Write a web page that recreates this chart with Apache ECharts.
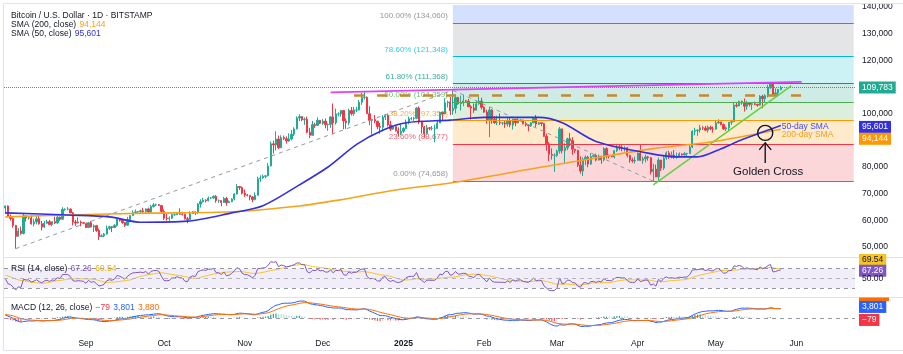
<!DOCTYPE html>
<html>
<head>
<meta charset="utf-8">
<script src="https://cdn.jsdelivr.net/npm/echarts@6/dist/echarts.min.js"></script>
<style>
  html, body { margin: 0; padding: 0; background: #fff; }
  #chart { width: 903px; height: 354px; }
</style>
</head>
<body>
<div id="chart"></div>
<script>
// prices in thousands of USD, one candle per day from 2024-08-01
var nCategories = 327; // Aug 1 2024 .. Jun 23 2025, right side left empty

// July 2024 closes, only used to warm up RSI / MACD
var warmupCloses = [62.7,62.0,60.2,57.0,56.6,58.2,55.9,56.7,58.0,57.7,57.3,57.9,59.2,60.8,64.8,65.1,
  64.1,63.9,66.7,67.2,68.2,67.6,65.9,65.4,65.8,68.0,68.0,68.3,66.8,66.2,64.6];

var closes = [
  // Aug
  65.4,61.5,60.7,58.1,54.0,56.0,55.1,61.7,60.9,60.9,58.7,59.4,60.6,58.7,57.5,58.9,59.5,58.4,59.5,59.0,61.2,60.4,64.1,64.2,64.2,62.8,59.4,59.0,59.4,59.1,58.9,
  // Sep
  57.3,59.1,57.5,58.0,56.2,53.9,54.2,54.9,57.0,57.6,57.3,58.1,60.6,60.0,59.2,58.2,60.3,61.8,62.9,63.2,63.3,63.6,63.3,64.3,63.1,65.2,65.8,65.9,65.6,63.3,
  // Oct
  60.8,60.6,60.8,62.1,62.1,62.8,62.3,62.2,60.6,60.3,62.5,63.2,62.9,66.1,67.0,67.6,67.4,68.4,68.4,69.0,67.4,67.4,66.7,68.2,66.6,67.0,68.0,69.9,72.7,72.3,70.2,
  // Nov
  69.5,69.4,68.8,67.8,69.4,75.6,75.9,76.5,76.7,80.4,88.7,88.3,90.5,87.2,91.1,90.6,89.8,90.5,92.3,94.3,98.4,98.9,97.7,97.9,93.0,91.9,95.9,95.6,97.5,96.4,
  // Dec
  97.2,95.9,96.0,98.8,96.6,99.9,99.9,101.2,97.3,96.6,101.2,100.0,101.4,101.4,104.3,106.1,106.1,100.0,97.5,97.8,97.2,95.2,94.9,98.7,99.4,95.8,94.2,95.2,93.6,92.6,93.4,
  // Jan
  94.4,96.9,98.1,98.2,98.3,102.1,96.9,95.0,92.5,94.7,94.5,94.5,94.5,96.5,100.5,99.9,104.1,104.4,101.1,102.0,106.1,103.7,104.0,104.8,104.7,102.6,102.1,101.3,103.7,104.7,102.4,
  // Feb
  100.6,97.7,101.4,97.9,96.6,96.6,96.5,96.5,96.1,97.4,95.8,97.9,96.6,97.5,97.6,96.2,95.8,95.5,96.6,98.3,96.1,96.6,96.3,91.5,88.7,84.7,84.4,84.4,
  // Mar
  86.0,94.3,86.1,87.2,90.6,89.9,86.7,86.2,80.7,78.5,82.9,83.7,81.1,83.9,84.3,82.6,84.1,82.7,86.9,84.2,84.0,83.8,86.1,87.5,87.4,86.9,87.2,84.4,82.6,82.3,82.5,
  // Apr
  85.2,82.5,83.1,83.8,83.5,78.2,79.2,76.3,82.6,79.6,83.4,85.3,83.7,84.5,83.6,84.0,84.9,84.5,85.0,85.1,87.5,93.4,93.7,93.9,94.7,94.6,93.8,94.9,94.3,94.2,
  // May
  96.5,96.9,95.9,94.3,94.7,96.8,97.0,103.2,102.9,104.6,104.1,102.8,104.1,103.5,103.7,103.5,103.2,106.5,105.6,106.8,109.7,111.7,107.3,107.8,109.0,109.783
];

var highs = [
  65.6,65.6,62.2,61.1,58.3,57.1,57.7,62.7,61.8,61.4,61.8,60.6,61.5,61.8,59.8,59.8,60.2,60.2,59.6,61.4,61.8,61.4,64.9,64.5,65.0,64.5,63.2,60.2,61.2,59.9,59.4,
  59.0,59.4,59.8,58.5,58.3,56.9,54.8,55.3,58.1,58.0,57.9,58.6,60.7,60.6,60.4,59.2,61.3,61.8,63.8,64.1,63.5,64.0,64.7,64.5,64.8,65.8,66.5,66.3,66.1,65.6,
  64.1,62.4,61.5,62.5,62.4,63.0,64.5,63.2,62.5,61.3,63.4,63.5,63.3,66.5,67.9,68.4,67.9,68.9,68.7,69.4,69.5,67.8,67.4,68.8,68.8,67.5,68.3,70.2,73.6,72.9,72.7,
  71.6,69.9,69.4,69.1,70.5,76.4,76.9,77.2,76.9,81.5,89.6,89.9,93.4,91.8,91.9,91.8,91.5,92.6,93.9,94.9,99.0,99.8,98.9,98.6,98.9,94.7,97.3,96.6,98.6,97.6,
  98.0,98.2,96.3,99.0,103.8,101.9,100.5,101.4,101.3,98.2,101.9,102.5,102.6,102.6,105.1,107.8,108.3,106.5,102.8,98.1,99.5,97.3,96.5,99.4,99.9,99.9,97.3,95.5,95.2,94.9,96.1,
  94.9,97.8,98.9,98.7,98.8,102.5,102.7,97.3,95.4,95.8,95.0,95.4,95.9,97.3,100.7,100.8,105.8,104.9,106.3,108.8,107.2,106.3,106.8,107.1,105.2,105.5,103.2,103.8,104.8,106.4,106.0,
  102.8,101.5,102.5,101.7,99.1,99.2,100.1,96.9,97.3,98.3,98.5,98.1,97.9,98.8,97.9,97.7,97.0,96.0,96.9,98.7,99.5,96.9,96.6,96.5,92.5,89.3,87.0,85.1,
  86.5,95.0,94.4,88.9,91.0,92.8,91.2,86.8,86.5,84.0,83.6,84.3,84.2,85.2,84.7,85.0,84.7,84.1,87.4,87.4,84.7,84.5,86.2,88.7,88.5,88.3,87.8,87.5,84.6,83.5,83.9,
  85.5,88.5,83.9,84.7,84.2,83.8,81.2,80.9,83.5,82.7,84.2,85.9,86.1,85.8,86.4,85.4,85.5,85.1,85.6,85.3,88.6,93.8,94.7,94.0,95.8,95.3,95.4,95.6,95.5,95.2,
  97.4,97.9,96.9,96.3,95.2,96.9,97.7,104.1,104.3,104.9,104.9,105.7,104.9,104.2,104.1,104.5,103.7,107.0,107.1,107.3,110.8,111.9,111.8,109.5,109.3,110.4
];

var lows = [
  62.3,61.2,59.9,57.3,49.4,54.0,54.6,54.7,59.6,60.3,58.4,57.7,58.5,58.4,56.2,57.1,58.8,58.4,57.8,58.6,58.8,59.8,60.4,63.6,63.8,62.8,58.1,57.9,58.8,57.8,58.7,
  57.2,57.1,57.4,55.6,55.7,52.6,53.8,53.7,54.6,56.4,55.6,57.4,57.6,59.5,58.7,57.5,58.0,59.2,61.6,62.4,62.8,62.4,62.7,62.8,62.7,62.7,64.8,65.4,65.4,62.9,
  60.2,59.9,59.8,60.5,61.7,62.0,62.1,61.8,60.3,58.9,60.1,62.4,62.0,62.4,64.8,66.7,66.7,67.1,68.0,68.1,66.6,66.6,65.3,66.6,65.5,66.5,66.8,67.5,69.7,71.4,69.7,
  68.8,69.0,67.5,66.8,67.5,69.3,74.4,75.6,75.8,76.5,80.2,85.1,86.2,86.7,87.1,90.1,88.8,89.4,90.0,91.6,94.1,97.2,97.2,95.8,92.6,90.8,91.7,94.7,95.4,96.1,
  95.8,94.5,93.6,94.7,92.3,95.9,99.0,98.9,94.2,94.3,95.7,99.3,99.2,100.6,101.2,103.3,105.3,100.0,95.7,92.1,96.4,94.2,92.5,93.4,97.6,95.2,93.5,94.0,93.3,91.4,92.0,
  92.8,94.2,96.0,97.5,97.3,97.9,96.1,92.5,91.2,92.2,93.8,93.7,89.3,94.3,96.5,97.3,99.9,102.3,99.5,99.6,100.1,103.3,101.2,102.8,104.1,102.5,97.8,100.3,101.3,103.3,101.6,
  100.3,96.2,91.2,96.2,96.2,95.7,95.7,95.7,94.7,95.2,94.9,94.1,95.3,96.3,97.1,96.0,95.2,93.4,95.0,96.4,94.9,95.8,95.3,91.3,86.1,82.3,82.8,78.2,
  83.8,85.0,85.1,81.4,86.3,87.8,84.6,85.3,80.0,77.5,76.6,80.7,79.9,80.8,83.7,82.1,82.4,81.2,82.1,83.2,83.2,83.7,83.2,85.6,86.3,85.9,85.8,83.6,81.6,81.6,81.3,
  82.4,82.3,81.2,81.7,82.4,77.2,74.66,76.2,74.9,78.5,78.9,82.7,83.0,83.2,83.1,83.1,83.9,84.3,84.4,83.9,85.0,87.1,91.9,91.7,92.9,93.9,93.6,92.9,93.8,92.9,
  94.1,96.3,95.6,93.9,93.5,93.4,95.8,96.9,102.3,102.8,103.4,100.8,101.5,102.7,101.4,103.1,102.6,103.1,102.0,104.2,106.1,109.3,106.8,107.0,106.6,108.8
];

// moving averages
var sma50Points = [["2024-08-01",62.8],["2024-08-25",62.0],["2024-09-10",61.3],["2024-09-22",59.3],["2024-10-10",59.7],
  ["2024-10-27",62.8],["2024-11-08",65.5],["2024-11-22",73.3],["2024-12-03",80.0],["2024-12-14",88.5],["2024-12-24",93.8],
  ["2025-01-02",96.6],["2025-01-19",97.6],["2025-02-01",98.6],["2025-02-22",98.6],["2025-03-03",96.6],["2025-03-16",89.6],
  ["2025-04-05",85.2],["2025-04-16",83.8],["2025-04-24",83.8],["2025-05-02",86.4],["2025-05-11",90.2],["2025-05-19",93.1],["2025-05-26",95.601]];
var sma200Points = [["2024-08-01",61.3],["2024-08-25",62.0],["2024-09-25",62.7],["2024-10-27",63.2],["2024-11-22",65.4],
  ["2024-12-07",67.6],["2024-12-29",71.4],["2025-01-19",74.0],["2025-02-21",79.6],["2025-03-17",83.6],["2025-04-07",86.9],
  ["2025-04-29",89.4],["2025-05-21",93.2],["2025-05-26",94.144]];

var priceTicks = [50, 60, 70, 80, 90, 100, 110, 120, 130, 140];
var monthNames = ["2025","Feb","Mar","Apr","May","Jun","Jul","Aug","Sep","Oct","Nov","Dec"];

// trend based fib extension: low, high, low
var fibAnchors = [["2024-08-05", 49.398], ["2025-01-20", 108.8], ["2025-04-07", 74.658]];
var fibLevels = [0, 0.236, 0.382, 0.5, 0.618, 0.786, 1, 1.618];
var fibColors = ["#787B86", "#F23645", "#FF9800", "#4CAF50", "#089981", "#00BCD4", "#787B86", "#2962FF"];

var resistanceLine = [["2024-12-04", 108.0], ["2025-06-03", 111.9]];
var supportLine = [["2025-04-07", 73.3], ["2025-05-30", 110.4]];
var dashedLevel = [["2024-12-13", 106.8], ["2025-06-04", 106.8]];
var crossPoint = ["2025-05-20", 92.8];

var lastPrice = 109.783, lastSma50 = 95.601, lastSma200 = 94.144;
var rsiText = ["67.26", "69.54"], macdText = ["\u221279", "3,801", "3,880"];

var FONT = '"Liberation Sans", Arial, sans-serif';
var TXT = "#131722";
var BLUE = "#3131e3", ORANGE = "#f7a21b";

// ---------- build ----------
var dates = [];
for (var i = 0; i < nCategories; i++) {
  dates.push(new Date(Date.UTC(2024, 7, 1 + i)).toISOString().slice(0, 10));
}
function idx(d) { return dates.indexOf(d); }

var candles = closes.map(function (c, i) {
  var o = i === 0 ? warmupCloses[warmupCloses.length - 1] : closes[i - 1];
  return [o, c, lows[i], highs[i]];
});

// RSI 14 (Wilder) and its 14 SMA
var all = warmupCloses.concat(closes);
var off = warmupCloses.length;
var rsiAll = [], ag = 0, al = 0;
rsiAll[0] = null;
for (var i = 1; i < all.length; i++) {
  var ch = all[i] - all[i - 1], g = Math.max(ch, 0), l = Math.max(-ch, 0);
  if (i <= 14) {
    ag += g / 14; al += l / 14;
    rsiAll[i] = i === 14 ? 100 - 100 / (1 + ag / al) : null;
  } else {
    ag = (ag * 13 + g) / 14; al = (al * 13 + l) / 14;
    rsiAll[i] = 100 - 100 / (1 + ag / al);
  }
}
var rsiMa = rsiAll.map(function (v, i) {
  if (i < 27) return null;
  var s = 0; for (var k = i - 13; k <= i; k++) s += rsiAll[k];
  return s / 14;
});

function ema(arr, n) {
  var k = 2 / (n + 1), e = arr[0];
  return arr.map(function (v, i) { e = i === 0 ? v : v * k + e * (1 - k); return e; });
}
var e12 = ema(all, 12), e26 = ema(all, 26);
var macdAll = e12.map(function (v, i) { return v - e26[i]; });
var sigAll = ema(macdAll, 9);
var histAll = macdAll.map(function (v, i) { return v - sigAll[i]; });

var rsi = rsiAll.slice(off), rsiSig = rsiMa.slice(off);
var macd = macdAll.slice(off), signal = sigAll.slice(off);
var hist = histAll.slice(off).map(function (h, i, arr) {
  var prev = i === 0 ? histAll[off - 1] : arr[i - 1];
  var c = h >= 0 ? (h >= prev ? "#26A69A" : "#B2DFDB") : (h < prev ? "#FF5252" : "#FFCDD2");
  return { value: h, itemStyle: { color: c } };
});

// fib bands / lines / labels
var fibBase = fibAnchors[2][1], fibRange = fibAnchors[1][1] - fibAnchors[0][1];
var fibStart = idx(fibAnchors[1][0]), fibEnd = nCategories - 1;
var yMin = 46.26, yMax = 140.75;
var fibValues = fibLevels.map(function (k) { return fibBase + k * fibRange; });

function alpha(hex, a) {
  var n = parseInt(hex.slice(1), 16);
  return "rgba(" + (n >> 16) + "," + ((n >> 8) & 255) + "," + (n & 255) + "," + a + ")";
}
var fibAreas = [], fibLines = [], fibLabels = [];
for (var j = 1; j < fibLevels.length; j++) {
  fibAreas.push([
    { coord: [fibStart, fibValues[j - 1]], itemStyle: { color: alpha(fibColors[j], 0.2) } },
    { coord: [fibEnd, Math.min(fibValues[j], yMax)] }
  ]);
}
for (var j = 0; j < fibLevels.length; j++) {
  if (fibValues[j] > yMax) continue;
  fibLines.push([
    { coord: [fibStart, fibValues[j]], lineStyle: { color: fibColors[j], width: 1, type: "solid" } },
    { coord: [fibEnd, fibValues[j]] }
  ]);
  fibLabels.push({
    value: [fibStart, fibValues[j]],
    label: {
      color: fibColors[j],
      formatter: (fibLevels[j] * 100).toFixed(2) + "% (" + Math.round(fibValues[j] * 1000).toLocaleString("en-US") + ")"
    }
  });
}

function seg(pts) { return pts.map(function (p) { return { coord: [idx(p[0]), p[1]] }; }); }
function drawn(pts, style) {
  var s = seg(pts);
  s[0].lineStyle = style;
  return s;
}

var chart = echarts.init(document.getElementById("chart"));
var grids = [
  { left: 4, right: 48, top: 5, height: 252 },
  { left: 4, right: 48, top: 258, height: 39 },
  { left: 4, right: 48, top: 298, height: 37 }
];
function xAx(g, show) {
  return {
    type: "category", gridIndex: g, data: dates, boundaryGap: true,
    axisLine: { show: false }, axisTick: { show: false }, splitLine: { show: false },
    axisLabel: show ? {
      show: true, margin: 4, color: TXT, fontSize: 8.5, fontFamily: FONT,
      interval: function (i, v) { return v.slice(8) === "01" && v.slice(5, 7) !== "08"; },
      formatter: function (v) {
        var m = parseInt(v.slice(5, 7), 10);
        return m === 1 ? "{b|2025}" : monthNames[m - 1];
      },
      rich: { b: { fontWeight: "bold", fontSize: 8.5, fontFamily: FONT, color: TXT } }
    } : { show: false }
  };
}

chart.setOption({
  animation: false,
  grid: grids,
  xAxis: [xAx(0, false), xAx(1, false), xAx(2, true)],
  yAxis: [
    {
      type: "value", gridIndex: 0, position: "right", min: yMin, max: yMax,
      splitLine: { show: false }, axisLine: { show: false }, axisTick: { show: false },
      axisLabel: {
        customValues: priceTicks, margin: 7, color: TXT, fontSize: 8.5, fontFamily: FONT, align: "left",
        formatter: function (v) { return (v * 1000).toLocaleString("en-US"); }
      }
    },
    { type: "value", gridIndex: 1, position: "right", min: 12, max: 92, show: false, splitLine: { show: false } },
    { type: "value", gridIndex: 2, position: "right", min: -7.1, max: 8.3, show: false, splitLine: { show: false } }
  ],
  series: [
    { // fib extension bands and levels
      type: "line", xAxisIndex: 0, yAxisIndex: 0, data: [], z: 1, silent: true,
      markArea: { silent: true, data: fibAreas, label: { show: false } },
      markLine: { silent: true, symbol: "none", data: fibLines, label: { show: false } }
    },
    {
      type: "scatter", xAxisIndex: 0, yAxisIndex: 0, symbolSize: 0, z: 2, silent: true, data: fibLabels,
      label: { show: true, position: "left", distance: 5, offset: [0, -7], fontSize: 8, fontFamily: FONT }
    },
    {
      type: "candlestick", xAxisIndex: 0, yAxisIndex: 0, data: candles, z: 4, barWidth: 1.8,
      itemStyle: { color: "#22ab94", color0: "#f23645", borderColor: "#22ab94", borderColor0: "#f23645", borderWidth: 1 },
      markLine: {
        silent: true, symbol: "none", label: { show: false },
        lineStyle: { color: "#22ab94", type: "dotted", width: 1 },
        data: [{ yAxis: lastPrice }]
      }
    },
    {
      type: "line", name: "SMA200", xAxisIndex: 0, yAxisIndex: 0, z: 5, smooth: 0.3, symbol: "none",
      data: sma200Points.map(function (p) { return [idx(p[0]), p[1]]; }),
      lineStyle: { color: ORANGE, width: 1.6 }
    },
    {
      type: "line", name: "SMA50", xAxisIndex: 0, yAxisIndex: 0, z: 5, smooth: 0.3, symbol: "none",
      data: sma50Points.map(function (p) { return [idx(p[0]), p[1]]; }),
      lineStyle: { color: BLUE, width: 1.6 }
    },
    { // drawings
      type: "line", xAxisIndex: 0, yAxisIndex: 0, data: [], z: 6, silent: true,
      markLine: {
        silent: true, symbol: "none", label: { show: false },
        data: [
          drawn(fibAnchors.slice(0, 2), { color: "#9598a1", type: [4, 4], width: 1 }),
          drawn(fibAnchors.slice(1, 3), { color: "#9598a1", type: [4, 4], width: 1 }),
          drawn(dashedLevel, { color: "#c8892c", type: [10, 13], width: 2.5 }),
          drawn(resistanceLine, { color: "#e040fb", type: "solid", width: 1.8 }),
          drawn(supportLine, { color: "#5fd13a", type: "solid", width: 1.4 })
        ]
      }
    },
    { // RSI band and levels
      type: "line", xAxisIndex: 1, yAxisIndex: 1, data: [], z: 1, silent: true,
      markArea: { silent: true, itemStyle: { color: "rgba(126,87,194,0.1)" }, data: [[{ yAxis: 30 }, { yAxis: 70 }]] },
      markLine: {
        silent: true, symbol: "none", label: { show: false },
        lineStyle: { color: "#9598a1", type: [4, 4], width: 1 },
        data: [{ yAxis: 70 }, { yAxis: 50, lineStyle: { color: "#b2b5be" } }, { yAxis: 30 }]
      }
    },
    {
      type: "line", xAxisIndex: 1, yAxisIndex: 1, data: rsi, symbol: "none", z: 3,
      lineStyle: { color: "#7E57C2", width: 1 }
    },
    {
      type: "line", xAxisIndex: 1, yAxisIndex: 1, data: rsiSig, symbol: "none", z: 2,
      lineStyle: { color: "#F7C325", width: 1 }
    },
    { // MACD
      type: "bar", xAxisIndex: 2, yAxisIndex: 2, data: hist, barWidth: 1.2, z: 2,
      markLine: {
        silent: true, symbol: "none", label: { show: false },
        lineStyle: { color: "#9598a1", type: [4, 4], width: 1 }, data: [{ yAxis: 0 }]
      }
    },
    { type: "line", xAxisIndex: 2, yAxisIndex: 2, data: macd, symbol: "none", z: 3, lineStyle: { color: "#2962FF", width: 1 } },
    { type: "line", xAxisIndex: 2, yAxisIndex: 2, data: signal, symbol: "none", z: 3, lineStyle: { color: "#FF6D00", width: 1 } }
  ]
});

// ---------- overlays: legends, price labels, golden cross ----------
function px(g, d, v) { return chart.convertToPixel({ gridIndex: g }, [typeof d === "string" ? idx(d) : d, v]); }
function f(size, weight) { return (weight || "") + " " + size + "px " + FONT; }
function box(y, text, bg, fg) {
  return {
    type: "text", x: 859, y: y, z: 100,
    style: { text: text, fill: fg || "#fff", backgroundColor: bg, padding: [2, 3, 1, 3], font: f(8.5), verticalAlign: "middle" }
  };
}
function richText(x, y, parts) {
  return {
    type: "text", x: x, y: y, z: 100,
    style: {
      text: parts.map(function (p, i) { return "{s" + i + "|" + p[0] + "}"; }).join(" "),
      rich: parts.reduce(function (o, p, i) { o["s" + i] = { fill: p[1], font: f(8.5) }; return o; }, {}),
      verticalAlign: "middle"
    }
  };
}

var yPrice = px(0, 0, lastPrice)[1];
var ySma50 = px(0, 0, lastSma50)[1];
var ySma200 = px(0, 0, lastSma200)[1];
var yR70 = px(1, 0, 70)[1], yR50 = px(1, 0, 50)[1];
var yZero = px(2, 0, 0)[1];
var cross = px(0, crossPoint[0], crossPoint[1]);
var labelAt = px(0, "2025-05-26", 95.0);

chart.setOption({
  graphic: [
    { type: "rect", shape: { x: 3.5, y: 3.5, width: 905, height: 347 }, style: { fill: "none", stroke: "#e0e3eb", lineWidth: 1 }, z: 90 },
    { type: "line", shape: { x1: 4, y1: 257.5, x2: 903, y2: 257.5 }, style: { stroke: "#e0e3eb", lineWidth: 1 }, z: 90 },
    { type: "line", shape: { x1: 4, y1: 297.5, x2: 903, y2: 297.5 }, style: { stroke: "#e0e3eb", lineWidth: 1 }, z: 90 },

    richText(11, 16, [["Bitcoin / U.S. Dollar \u00b7 1D \u00b7 BITSTAMP", TXT]]),
    richText(11, 25, [["SMA (200, close)", TXT], ["94,144", ORANGE]]),
    richText(11, 34, [["SMA (50, close)", TXT], ["95,601", BLUE]]),
    richText(11, yR70 - 0.5, [["RSI (14, close)", TXT], [rsiText[0], "#7E57C2"], [rsiText[1], "#e8b400"]]),
    richText(11, yZero - 10, [["MACD (12, 26, close)", TXT], [macdText[0], "#F23645"], [macdText[1], "#2962FF"], [macdText[2], "#FF6D00"]]),

    box(yPrice, "109,783", "#22ab94"),
    box(ySma50 + 1.5, "95,601", BLUE),
    box(ySma200 + 9.5, "94,144", "#ff9800"),
    box(260, rsiText[1], "#f7c325", "#131722"),
    box(yR70 + 2, rsiText[0], "#7E57C2"),
    { type: "text", x: 862, y: yR50 + 0.5, z: 100, style: { text: "50.00", fill: TXT, font: f(8.5), verticalAlign: "middle" } },
    { type: "rect", shape: { x: 859, y: 297.5, width: 30, height: 3.5 }, style: { fill: "#FF6D00" }, z: 100 },
    box(yZero - 11, macdText[1], "#2962FF"),
    box(yZero + 2, macdText[0], "#F23645"),

    { type: "text", x: labelAt[0] + 1, y: labelAt[1], z: 100, style: { text: "50-day SMA", fill: "#3d4ee8", font: f(8.5), verticalAlign: "middle" } },
    { type: "text", x: labelAt[0] + 1, y: labelAt[1] + 8, z: 100, style: { text: "200-day SMA", fill: "#f5a11c", font: f(8.5), verticalAlign: "middle" } },
    { type: "circle", shape: { cx: cross[0], cy: cross[1], r: 7.5 }, style: { fill: "none", stroke: "#131722", lineWidth: 1.4 }, z: 100 },
    { type: "polyline", shape: { points: [[cross[0], cross[1] + 30], [cross[0], cross[1] + 10]] }, style: { stroke: "#131722", lineWidth: 1.4, fill: "none" }, z: 100 },
    { type: "polyline", shape: { points: [[cross[0] - 6, cross[1] + 17], [cross[0], cross[1] + 10], [cross[0] + 6, cross[1] + 17]] }, style: { stroke: "#131722", lineWidth: 1.4, fill: "none" }, z: 100 },
    { type: "text", x: cross[0] + 3, y: cross[1] + 39, z: 100, style: { text: "Golden Cross", fill: TXT, font: f(11.5), align: "center", verticalAlign: "middle" } }
  ]
});
</script>
</body>
</html>
